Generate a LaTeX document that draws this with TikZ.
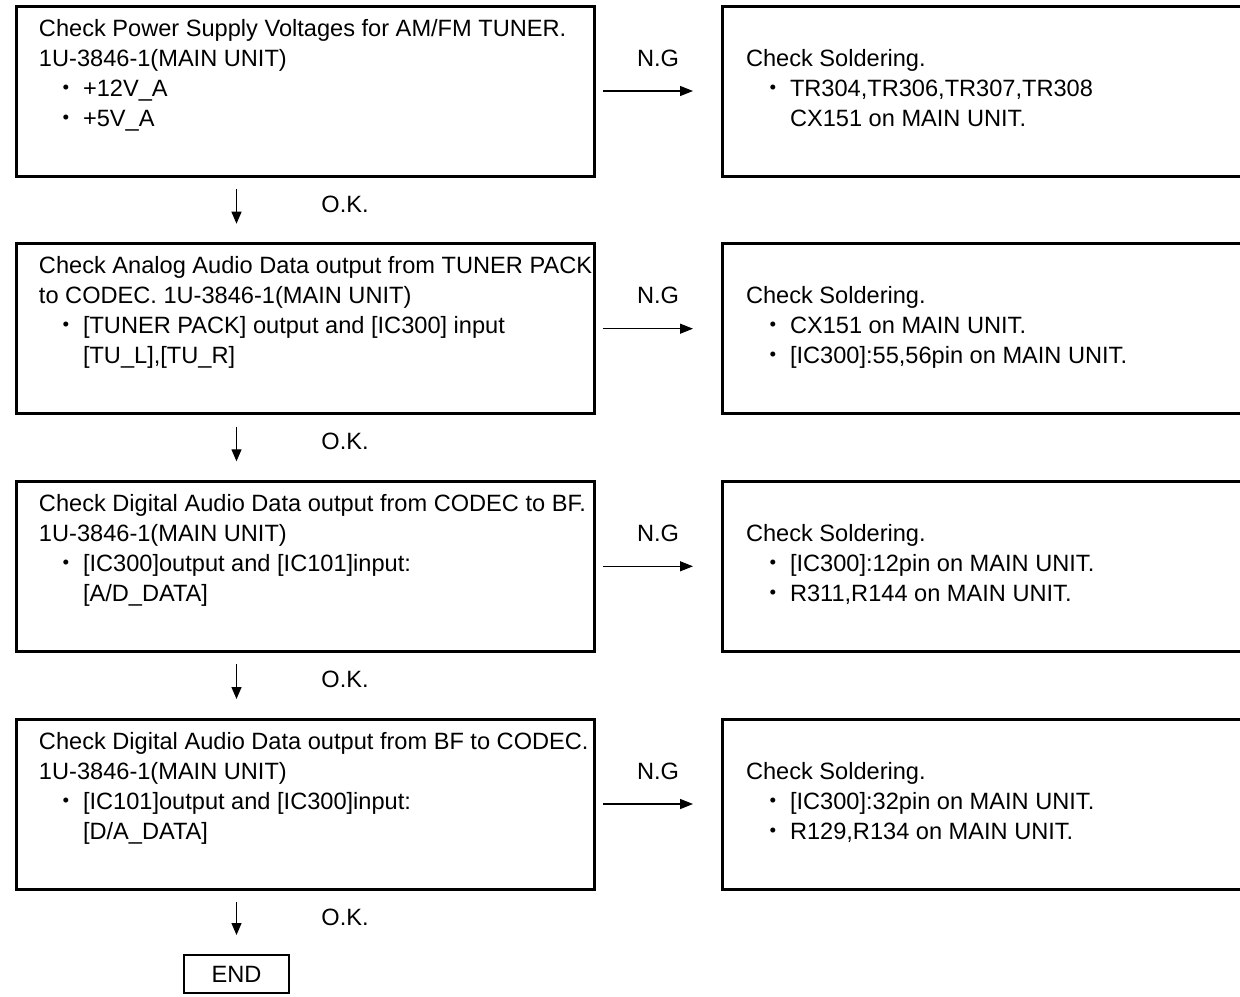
\documentclass[tikz,border=0pt]{standalone}
\usepackage{fontspec}
\setmainfont{Liberation Sans}
\newfontfamily\cjkfont{Noto Sans CJK JP}
\usetikzlibrary{arrows.meta}
\newcommand\bl{\hspace*{7.9pt}\makebox[14.1pt][l]{\cjkfont ・}}
\newcommand\ind{\hspace*{22pt}}
\tikzset{
  lbox/.style={draw, line width=1.5pt, rectangle, minimum width=289pt, minimum height=85pt, inner sep=0pt, outer sep=0pt},
  rbox/.style={draw, line width=1.5pt, rectangle, minimum width=270pt, minimum height=85pt, inner sep=0pt, outer sep=0pt},
  endbox/.style={draw, line width=1.3pt, rectangle, minimum width=52.5pt, minimum height=19pt, inner sep=0pt, outer sep=0pt, font=\fontsize{11.8pt}{13pt}\selectfont},
  txt/.style={anchor=base west, inner sep=0pt, outer sep=0pt},
  lbl/.style={inner sep=0pt, font=\fontsize{11.8pt}{13pt}\selectfont},
  darr/.style={line width=0.65pt, -{Triangle[length=6pt, width=5pt]}, shorten <=6.5pt, shorten >=10pt},
  rarr/.style={line width=0.65pt, -{Triangle[length=6.5pt, width=5pt]}, shorten <=4.5pt, shorten >=14.5pt},
}
\newcommand\tx[1]{\parbox[t]{320pt}{\fontsize{11.8pt}{15pt}\selectfont #1}}
\begin{document}
\begin{tikzpicture}[x=0.5pt,y=-0.5pt]
\clip (0,0) rectangle (1240,996);
\useasboundingbox (0,0) rectangle (1240,996);
% left boxes
\node[lbox] (b1) at (305,91) {};
\node[lbox] (b2) at (305,328.7) {};
\node[lbox] (b3) at (305,566.3) {};
\node[lbox] (b4) at (305,804) {};
% right boxes
\node[rbox] (r1) at (992,91) {};
\node[rbox] (r2) at (992,328.7) {};
\node[rbox] (r3) at (992,566.3) {};
\node[rbox] (r4) at (992,804) {};
% end
\node[endbox] (e) at (236.5,974) {END};
% texts left
\node[txt] (t1) at ([shift={(23,30)}]b1.north west) {\tx{Check Power Supply Voltages for AM/FM TUNER.\\1U-3846-1(MAIN UNIT)\\\bl +12V\_A\\\bl +5V\_A}};
\node[txt] (t2) at ([shift={(23,30)}]b2.north west) {\tx{Check Analog Audio Data output from TUNER PACK\\to CODEC. 1U-3846-1(MAIN UNIT)\\\bl [TUNER PACK] output and [IC300] input\\\ind [TU\_L],[TU\_R]}};
\node[txt] (t3) at ([shift={(23,30)}]b3.north west) {\tx{Check Digital Audio Data output from CODEC to BF.\\1U-3846-1(MAIN UNIT)\\\bl [IC300]output and [IC101]input:\\\ind [A/D\_DATA]}};
\node[txt] (t4) at ([shift={(23,30)}]b4.north west) {\tx{Check Digital Audio Data output from BF to CODEC.\\1U-3846-1(MAIN UNIT)\\\bl [IC101]output and [IC300]input:\\\ind [D/A\_DATA]}};
% texts right
\node[txt] (s1) at ([shift={(24,60)}]r1.north west) {\tx{Check Soldering.\\\bl TR304,TR306,TR307,TR308\\\ind CX151 on MAIN UNIT.}};
\node[txt] (s2) at ([shift={(24,60)}]r2.north west) {\tx{Check Soldering.\\\bl CX151 on MAIN UNIT.\\\bl [IC300]:55,56pin on MAIN UNIT.}};
\node[txt] (s3) at ([shift={(24,60)}]r3.north west) {\tx{Check Soldering.\\\bl [IC300]:12pin on MAIN UNIT.\\\bl R311,R144 on MAIN UNIT.}};
\node[txt] (s4) at ([shift={(24,60)}]r4.north west) {\tx{Check Soldering.\\\bl [IC300]:32pin on MAIN UNIT.\\\bl R129,R134 on MAIN UNIT.}};
% N.G arrows
\draw[rarr] (b1.east) -- (r1.west);
\draw[rarr] (b2.east) -- (r2.west);
\draw[rarr] (b3.east) -- (r3.west);
\draw[rarr] (b4.east) -- (r4.west);
\node[lbl] (n1) at (658,58) {N.G};
\node[lbl] (n2) at (658,295.7) {N.G};
\node[lbl] (n3) at (658,533.3) {N.G};
\node[lbl] (n4) at (658,771) {N.G};
% O.K. arrows
\draw[darr] (b1.south -| e.north) -- (b2.north -| e.north);
\draw[darr] (b2.south -| e.north) -- (b3.north -| e.north);
\draw[darr] (b3.south -| e.north) -- (b4.north -| e.north);
\draw[darr] (b4.south -| e.north) -- (e.north);
\node[lbl] (k1) at (345,204) {O.K.};
\node[lbl] (k2) at (345,441.7) {O.K.};
\node[lbl] (k3) at (345,679.3) {O.K.};
\node[lbl] (k4) at (345,917) {O.K.};
\end{tikzpicture}
\end{document}
